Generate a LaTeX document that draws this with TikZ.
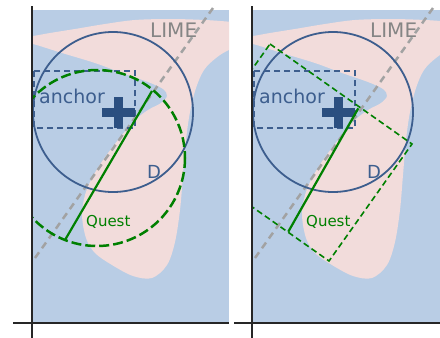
\documentclass[tikz,border=0pt]{standalone}
\usepackage{fontspec}
\setmainfont{DejaVu Sans}
\definecolor{bgblue}{HTML}{B9CDE5}
\definecolor{pinkreg}{HTML}{F2DCDB}
\definecolor{dblue}{HTML}{3D5E8E}
\definecolor{crossblue}{HTML}{2B4F80}
\definecolor{qgreen}{HTML}{008000}
\definecolor{limegray}{HTML}{A2A2A2}
\definecolor{limetext}{HTML}{858585}
\tikzset{
  axisline/.style={line width=2pt, draw=black!85},
  ballD/.style={line width=1.8pt, draw=dblue},
  anchorbox/.style={line width=2pt, draw=dblue, dash pattern=on 6pt off 4pt},
  limeline/.style={line width=2.5pt, draw=limegray, dash pattern=on 7pt off 5pt},
  crossbar/.style={line width=9pt, draw=crossblue},
  questcirc/.style={line width=2.5pt, draw=qgreen, dash pattern=on 10pt off 4pt},
  questbox/.style={line width=1.6pt, draw=qgreen, dash pattern=on 6pt off 3.5pt},
  questline/.style={line width=2.2pt, draw=qgreen},
  lbl/.style={inner sep=0pt, anchor=base west},
}
\begin{document}
\begin{tikzpicture}[x=1pt, y=-1pt]
\useasboundingbox (0,0) rectangle (440,338);

% the two panels share the same background, decision regions and anchor
\foreach \dx/\rx/\tag in {0/229/l, 220/220/r} {
  \begin{scope}[xshift=\dx pt]
    \fill[bgblue] (33,10) rectangle (\rx,323);
    \begin{scope}
      \clip (33,10) rectangle (\rx,323);
      \fill[pinkreg] plot[smooth cycle, tension=0.55] coordinates {
        (22,37) (33,36) (50,33) (75,29) (105,24) (135,20) (170,19) (205,20)
        (232,22) (245,24) (245,46) (229,50) (216,58) (204,70) (196,88)
        (190,112) (186,140) (183,175) (180,210) (175,242) (167,265) (152,278)
        (133,276) (112,265) (95,253) (86,238) (82,215) (85,195) (92,178)
        (103,160) (118,140) (134,121) (148,110) (161,103) (167,96) (163,89)
        (148,82) (122,73) (95,63) (62,53) (33,44) (22,43)};
    \end{scope}
    \draw[limeline] (35,258) -- (213,8);
    \draw[ballD] (113,112) circle[radius=80];
    \draw[anchorbox] (34,71) rectangle (135,128);
    \draw[crossbar] (102,112) -- (135,112);
    \draw[crossbar] (118,97) -- (118,128);
    \node[lbl, text=dblue, font=\fontsize{19pt}{19pt}\selectfont] (anchor\tag) at (39,103) {anchor};
    \node[lbl, text=limetext, font=\fontsize{20pt}{20pt}\selectfont] (lime\tag) at (150,37) {LIME};
    \node[lbl, text=dblue, font=\fontsize{18pt}{18pt}\selectfont] (d\tag) at (147,178) {D};
    \node[lbl, text=qgreen, font=\fontsize{15pt}{15pt}\selectfont] (quest\tag) at (86,226) {Quest};
  \end{scope}
}

% left panel: spherical Quest region
\begin{scope}
  \clip (32,10) rectangle (229,323);
  \draw[questcirc] (97,158) circle[radius=88];
\end{scope}
\draw[questline] (152,91) -- (65,240);

% right panel: rectangular Quest region
\begin{scope}[xshift=220pt]
  \begin{scope}
    \clip (32,10) rectangle (220,323);
    \draw[questbox] (50,44) -- (192,144) -- (109,261) -- (-33,161) -- cycle;
  \end{scope}
  \draw[questline] (138.3,108.3) -- (68.3,231.7);
\end{scope}

% axes
\draw[axisline] (32,6) -- (32,338);
\draw[axisline] (13,323) -- (229,323);
\draw[axisline] (252,6) -- (252,338);
\draw[axisline] (234,323) -- (440,323);
\end{tikzpicture}
\end{document}
